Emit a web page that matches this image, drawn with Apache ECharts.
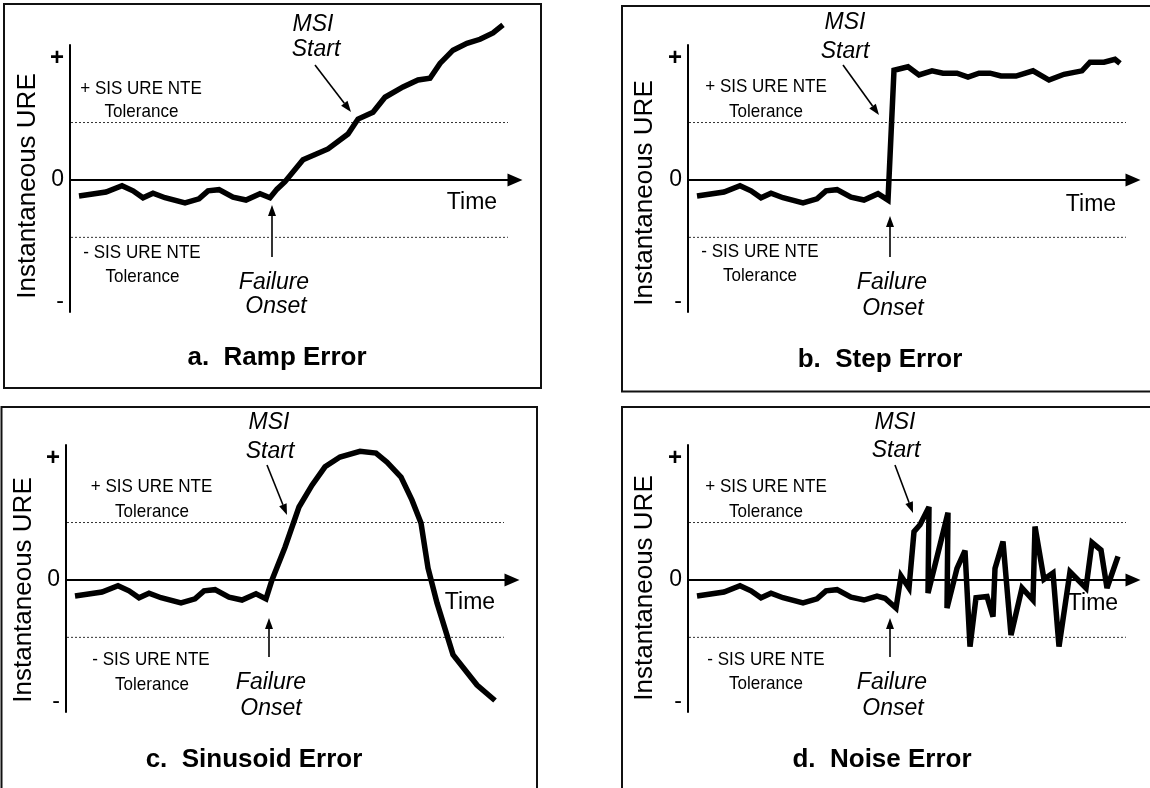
<!DOCTYPE html>
<html>
<head>
<meta charset="utf-8">
<script src="https://cdn.jsdelivr.net/npm/echarts@6/dist/echarts.min.js"></script>
<style>
html,body{margin:0;padding:0;background:#fff;}
#chart{width:1150px;height:788px;}
</style>
</head>
<body>
<div id="chart"></div>
<script>
// ---------- DATA (time units along x, tolerance units along y) ----------
const baselineTime = [9, 36, 52, 63, 73, 83, 95, 115, 129, 138, 149, 163, 176];
const baselineURE  = [-0.28, -0.21, -0.10, -0.19, -0.31, -0.23, -0.31, -0.40, -0.33, -0.19, -0.17, -0.30, -0.35];

const rampTime = [190, 200, 207, 215, 233, 258, 278, 288, 303, 315, 333, 348, 360, 370, 383, 397, 410, 423, 433];
const rampURE  = [-0.24, -0.31, -0.16, -0.03, 0.35, 0.54, 0.80, 1.06, 1.18, 1.44, 1.62, 1.74, 1.77, 2.03, 2.26, 2.38, 2.45, 2.56, 2.70];

const stepTime = [190, 200, 206, 220, 231, 244, 255, 269, 280, 291, 302, 313, 328, 345, 361, 376, 394, 402, 416, 427, 432];
const stepURE  = [-0.24, -0.35, 1.91, 1.97, 1.83, 1.90, 1.86, 1.86, 1.79, 1.86, 1.86, 1.81, 1.81, 1.90, 1.74, 1.84, 1.90, 2.05, 2.05, 2.10, 2.03];

const sineTime = [190, 200, 206, 219, 233, 246, 259, 274, 294, 310, 321, 335, 346, 355, 362, 371, 387, 411, 429];
const sineURE  = [-0.24, -0.33, 0.00, 0.57, 1.27, 1.65, 1.97, 2.14, 2.24, 2.21, 2.05, 1.79, 1.39, 0.99, 0.21, -0.40, -1.30, -1.83, -2.10];

const noiseTime = [189, 197, 208, 213, 221, 226, 232, 241, 240, 260, 259, 269, 277, 282, 288, 299, 305, 307, 315, 323, 334, 345, 347, 356, 365, 371, 382, 398, 404, 413, 419, 430];
const noiseURE  = [-0.28, -0.32, -0.49, 0.07, -0.14, 0.84, 0.96, 1.27, -0.23, 1.17, -0.49, 0.20, 0.51, -1.16, -0.31, -0.29, -0.64, 0.20, 0.67, -0.96, -0.14, -0.35, 0.93, 0.01, 0.12, -1.16, 0.14, -0.14, 0.65, 0.52, -0.14, 0.41];

const toleranceTime = [-3, 438];
const upperTolerance = [1, 1];
const lowerTolerance = [-1, -1];

const yTickValues = [-2.12, 0, 2.12];
const yTickLabels = ['-', '0', '+'];

const panelTitles = ['a.  Ramp Error', 'b.  Step Error', 'c.  Sinusoid Error', 'd.  Noise Error'];
const yAxisTitle = 'Instantaneous URE';

// ---------- LAYOUT ----------
const FONT = "'Liberation Sans', Arial, Helvetica, sans-serif";
const panels = [
  { grid: {left: 70, top: 45, width: 445, height: 267}, time: rampTime, ure: rampURE,
    box: [4, 4, 537, 384], yt: [28, 186],
    plus: [141, 89, 141.5, 112], minus: [142, 253, 142.5, 277],
    msi: [313, 25, 316, 50], fail: [274, 283, 276, 307],
    arrFail: [272, 257, 272, 205], arrMsi: [315, 65, 351, 112],
    timeLbl: [472, 203], title: [277, 358] },
  { grid: {left: 688, top: 45, width: 445, height: 267}, time: stepTime, ure: stepURE,
    box: [622, 6, 560, 385.5], yt: [645, 193],
    plus: [766, 87, 766, 112], minus: [760, 252, 760, 276],
    msi: [845, 23, 845, 52], fail: [892, 283, 893, 309],
    arrFail: [890, 257, 890, 216], arrMsi: [843, 65, 879, 115],
    timeLbl: [1091, 205], title: [880, 360] },
  { grid: {left: 66, top: 445, width: 446, height: 267}, time: sineTime, ure: sineURE,
    box: [1.5, 407, 535.5, 400], yt: [24, 590],
    plus: [151.5, 487, 152, 512], minus: [151, 660, 152, 685],
    msi: [269, 423, 270, 452], fail: [271, 683, 271, 709],
    arrFail: [269, 657, 269, 618], arrMsi: [267, 465, 287, 515],
    timeLbl: [470, 603], title: [254, 760] },
  { grid: {left: 688, top: 445, width: 445, height: 267}, time: noiseTime, ure: noiseURE,
    box: [622, 407, 560, 400], yt: [645, 588],
    plus: [766, 487, 766, 512], minus: [766, 660, 766, 684],
    msi: [895, 423, 896, 451], fail: [892, 683, 893, 709],
    arrFail: [890, 657, 890, 618], arrMsi: [895, 465, 913, 513],
    timeLbl: [1093, 604], title: [882, 760] }
];

function zip(xs, ys) { return xs.map((x, i) => [x, ys[i]]); }

const grids = [], xAxes = [], yAxes = [], series = [], graphics = [];

function text(x, y, str, font, el) {
  graphics.push(Object.assign({
    type: 'text', x: x, y: y, silent: true, z: 1,
    style: { text: str, fill: '#000', align: 'center', verticalAlign: 'middle', font: font }
  }, el || {}));
}
function arrow(x1, y1, x2, y2) {
  const ang = Math.atan2(y2 - y1, x2 - x1);
  const L = 11, W = 4;
  const bx = x2 - L * Math.cos(ang), by = y2 - L * Math.sin(ang);
  const px = -Math.sin(ang) * W, py = Math.cos(ang) * W;
  graphics.push({ type: 'line', silent: true, z: 1, shape: {x1: x1, y1: y1, x2: bx, y2: by},
    style: {stroke: '#000', lineWidth: 1.6} });
  graphics.push({ type: 'polygon', silent: true, z: 1,
    shape: {points: [[x2, y2], [bx + px, by + py], [bx - px, by - py]]},
    style: {fill: '#000'} });
}

const fTol = 'normal 18.5px ' + FONT;
const fIt = 'italic 23px ' + FONT;

panels.forEach((p, i) => {
  grids.push(Object.assign({containLabel: false}, p.grid));
  xAxes.push({
    type: 'value', gridIndex: i, min: 0, max: p.grid.width,
    axisLine: {show: true, onZero: true, symbol: ['none', 'triangle'], symbolSize: [13, 15],
      lineStyle: {color: '#000', width: 2}},
    axisTick: {show: false}, axisLabel: {show: false}, splitLine: {show: false}
  });
  yAxes.push({
    type: 'value', gridIndex: i, min: -2.3, max: 2.35,
    axisLine: {show: true, onZero: false, lineStyle: {color: '#000', width: 2}},
    axisTick: {show: false}, splitLine: {show: false},
    axisLabel: {
      show: true, customValues: yTickValues, margin: 6,
      fontFamily: FONT, fontSize: 23, color: '#000',
      formatter: function (v) {
        let k = 0;
        yTickValues.forEach((t, j) => { if (Math.abs(t - v) < Math.abs(yTickValues[k] - v)) k = j; });
        return k === 2 ? '{b|' + yTickLabels[k] + '}' : yTickLabels[k];
      },
      rich: { b: {fontFamily: FONT, fontSize: 24, fontWeight: 'bold', color: '#000'} }
    }
  });
  const dotted = {color: '#333', width: 1, type: [2, 2]};
  series.push({ type: 'line', xAxisIndex: i, yAxisIndex: i, data: zip(toleranceTime, upperTolerance),
    symbol: 'none', clip: false, silent: true, lineStyle: dotted, z: 1 });
  series.push({ type: 'line', xAxisIndex: i, yAxisIndex: i, data: zip(toleranceTime, lowerTolerance),
    symbol: 'none', clip: false, silent: true, lineStyle: dotted, z: 1 });
  series.push({ type: 'line', xAxisIndex: i, yAxisIndex: i,
    data: zip(baselineTime, baselineURE).concat(zip(p.time, p.ure)),
    symbol: 'none', clip: false, silent: true, z: 5,
    lineStyle: {color: '#000', width: 5.5, join: 'miter', miterLimit: 4, cap: 'butt'} });

  graphics.push({ type: 'rect', silent: true, z: 0,
    shape: {x: p.box[0], y: p.box[1], width: p.box[2], height: p.box[3]},
    style: {fill: 'none', stroke: '#111', lineWidth: 2} });
  text(p.yt[0], p.yt[1], yAxisTitle, 'normal 26px ' + FONT, {rotation: Math.PI / 2});
  text(p.plus[0], p.plus[1], '+ SIS URE NTE', fTol, {scaleX: 0.92});
  text(p.plus[2], p.plus[3], 'Tolerance', fTol, {scaleX: 0.92});
  text(p.minus[0], p.minus[1], '- SIS URE NTE', fTol, {scaleX: 0.92});
  text(p.minus[2], p.minus[3], 'Tolerance', fTol, {scaleX: 0.92});
  text(p.msi[0], p.msi[1], 'MSI', fIt);
  text(p.msi[2], p.msi[3], 'Start', fIt);
  text(p.fail[0], p.fail[1], 'Failure', fIt);
  text(p.fail[2], p.fail[3], 'Onset', fIt);
  arrow(p.arrFail[0], p.arrFail[1], p.arrFail[2], p.arrFail[3]);
  arrow(p.arrMsi[0], p.arrMsi[1], p.arrMsi[2], p.arrMsi[3]);
  text(p.timeLbl[0], p.timeLbl[1], 'Time', 'normal 23px ' + FONT);
  text(p.title[0], p.title[1], panelTitles[i], 'bold 26px ' + FONT);
});

const chart = echarts.init(document.getElementById('chart'), null, {renderer: 'canvas'});
chart.setOption({
  backgroundColor: '#fff',
  animation: false,
  grid: grids, xAxis: xAxes, yAxis: yAxes, series: series,
  graphic: {elements: graphics}
});
</script>
</body>
</html>
